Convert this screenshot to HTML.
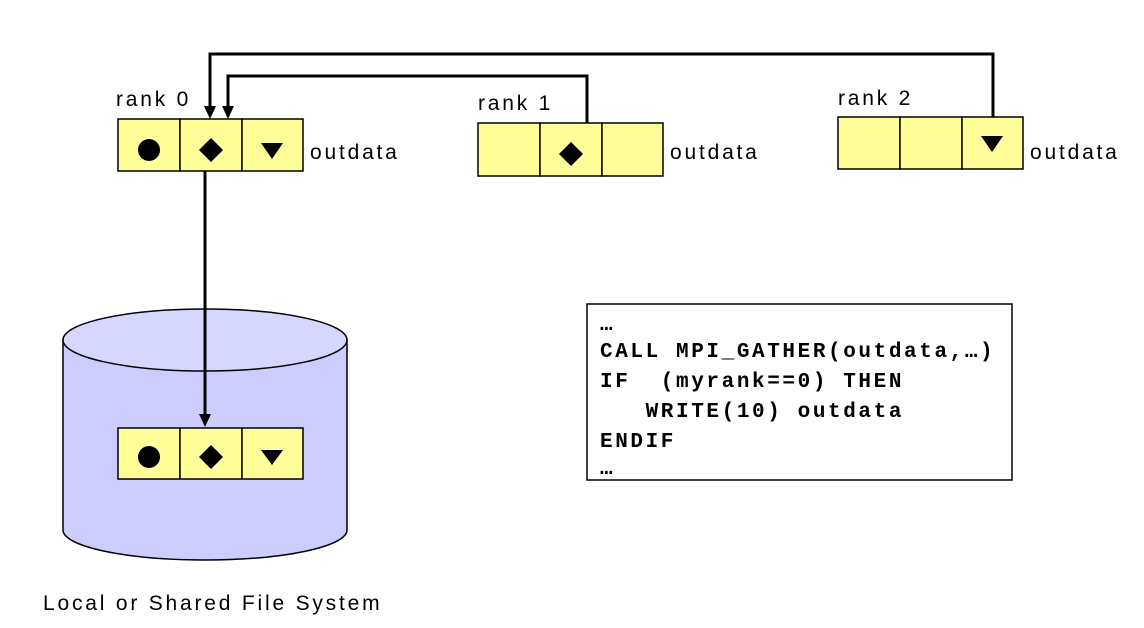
<!DOCTYPE html>
<html><head><meta charset="utf-8"><style>
html,body{margin:0;padding:0;background:#fff;}
svg{display:block;}
.lbl{font-family:"Liberation Sans","NanumGothic",sans-serif;font-size:21px;fill:#000;letter-spacing:2.8px;}
.code{font-family:"Liberation Mono",monospace;font-weight:bold;font-size:21px;fill:#000;letter-spacing:2.6px;white-space:pre;}
</style></head><body>
<svg width="1144" height="628" viewBox="0 0 1144 628" xmlns="http://www.w3.org/2000/svg" xml:space="preserve">
<!-- cylinder -->
<path d="M63,340 L63,530 A142,30 0 0 0 347,530 L347,340 Z" fill="#ccccff" stroke="#000" stroke-width="1.5"/>
<ellipse cx="205" cy="340" rx="142" ry="31" fill="#d6d6ff" stroke="#000" stroke-width="1.5"/>
<!-- connectors -->
<polyline points="993,117 993,54 210,54 210,108" fill="none" stroke="#000" stroke-width="3"/>
<path d="M204,106 L216,106 L210,119 Z" fill="#000"/>
<polyline points="587,123 587,76 228,76 228,108" fill="none" stroke="#000" stroke-width="3"/>
<path d="M222,106 L234,106 L228,119 Z" fill="#000"/>
<line x1="205" y1="171" x2="205" y2="416" stroke="#000" stroke-width="3"/>
<path d="M199,414 L211,414 L205,427 Z" fill="#000"/>
<g stroke="#000" stroke-width="1.5" fill="#ffff99">
<rect x="118" y="119" width="62" height="52"/><rect x="180" y="119" width="62" height="52"/><rect x="242" y="119" width="61" height="52"/>
<rect x="478" y="123" width="62" height="53"/><rect x="540" y="123" width="62" height="53"/><rect x="602" y="123" width="61" height="53"/>
<rect x="838" y="117" width="62" height="52"/><rect x="900" y="117" width="62" height="52"/><rect x="962" y="117" width="61" height="52"/>
<rect x="118" y="428" width="62" height="51"/><rect x="180" y="428" width="62" height="51"/><rect x="242" y="428" width="61" height="51"/>
</g>
<g fill="#000">
<circle cx="149" cy="150" r="11"/>
<path d="M211,138 L223,150 L211,162 L199,150 Z"/>
<path d="M261,143 L283,143 L272,159 Z"/>
<path d="M571,142 L583,154 L571,166 L559,154 Z"/>
<path d="M981,136 L1003,136 L992,152 Z"/>
<circle cx="149" cy="457" r="11"/>
<path d="M211,445 L223,457 L211,469 L199,457 Z"/>
<path d="M261,450 L283,450 L272,465 Z"/>
</g>
<text class="lbl" x="116" y="106">rank 0</text>
<text class="lbl" x="478" y="110">rank 1</text>
<text class="lbl" x="838" y="105">rank 2</text>
<text class="lbl" x="310" y="159">outdata</text>
<text class="lbl" x="670" y="159">outdata</text>
<text class="lbl" x="1030" y="159">outdata</text>
<text class="lbl" x="43" y="610">Local or Shared File System</text>
<rect x="587" y="304" width="425" height="176" fill="#fff" stroke="#000" stroke-width="1.5"/>
<text class="code" x="600" y="330">…</text>
<text class="code" x="600" y="357">CALL MPI_GATHER(outdata,…)</text>
<text class="code" x="600" y="387">IF  (myrank==0) THEN</text>
<text class="code" x="600" y="417">   WRITE(10) outdata</text>
<text class="code" x="600" y="447">ENDIF</text>
<text class="code" x="600" y="474">…</text>
</svg>
</body></html>
